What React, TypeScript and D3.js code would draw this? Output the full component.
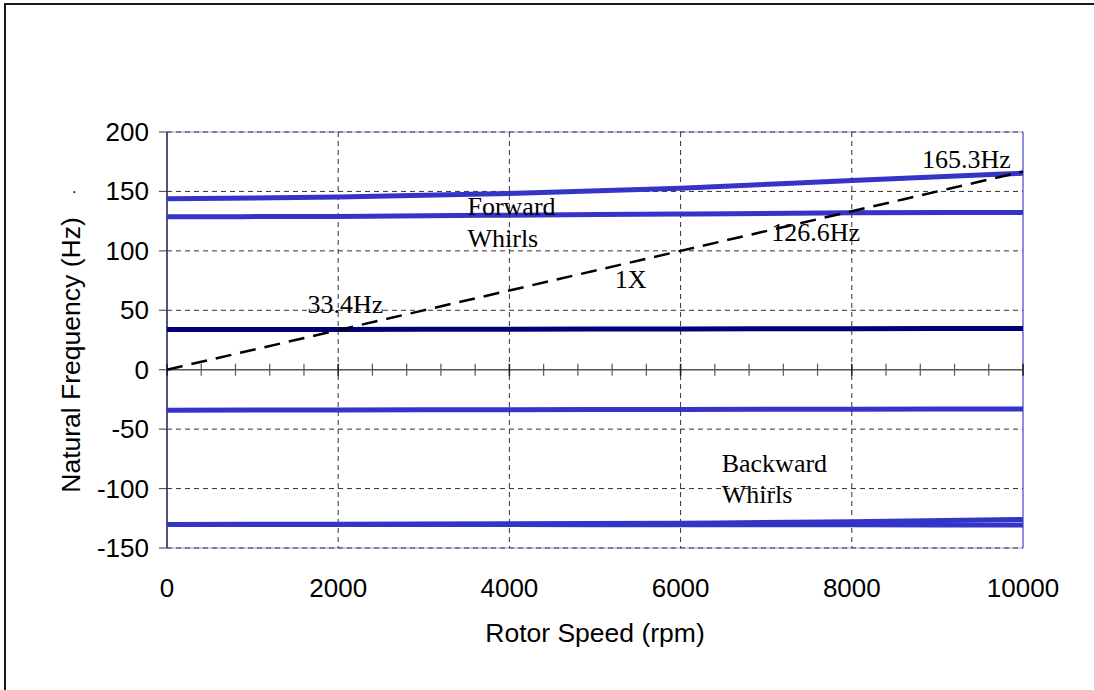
import React from "react";
import * as d3 from "d3";

// rotor speed samples (rpm)
const speeds = [0, 2000, 4000, 6000, 8000, 10000];

// natural frequencies (Hz) for each mode
const forward1 = [143.8, 145.3, 148.3, 152.7, 159.2, 165.3];
const forward2 = [128.7, 129.0, 130.0, 131.0, 132.0, 132.3];
const forward3 = [33.8, 33.9, 34.1, 34.3, 34.5, 34.7];
const backward1 = [-34.0, -33.8, -33.6, -33.4, -33.2, -33.0];
const backward2 = [-130.2, -130.0, -129.6, -129.1, -128.0, -126.0];
const backward3 = [-130.3, -130.3, -130.3, -130.4, -130.5, -130.6];

// 1X excitation line
const oneX = [0, 33.3, 66.7, 100, 133.3, 166.7];

const xTicks = [0, 2000, 4000, 6000, 8000, 10000];
const yTicks = [200, 150, 100, 50, 0, -50, -100, -150];

const modes = [
  { values: forward1, color: "#3434c8" },
  { values: forward2, color: "#3434c8" },
  { values: forward3, color: "#00007a" },
  { values: backward1, color: "#3434c8" },
  { values: backward2, color: "#3434c8" },
  { values: backward3, color: "#3434c8" },
];

export default function App() {
  const width = 1094;
  const height = 690;
  const margin = { left: 167, right: 71, top: 132, bottom: 142 };
  const innerW = width - margin.left - margin.right;
  const innerH = height - margin.top - margin.bottom;

  const x = d3.scaleLinear().domain([0, 10000]).range([0, innerW]);
  const y = d3.scaleLinear().domain([-150, 200]).range([innerH, 0]);

  const line = d3
    .line<number>()
    .x((_, i) => x(speeds[i]))
    .y(d => y(d))
    .curve(d3.curveMonotoneX);

  const minorTicks = d3.range(0, 10001, 400);
  const sans = "Liberation Sans, Arial, sans-serif";
  const serif = "Liberation Serif, Times New Roman, serif";

  return (
    <svg
      width={width}
      height={height}
      style={{ position: "absolute", left: 0, top: 0, background: "#fff" }}
    >
      {/* outer frame */}
      <rect x={5} y={4} width={1200} height={800} fill="none" stroke="#000" strokeWidth={1.8} />

      <g transform={`translate(${margin.left}, ${margin.top})`}>
        {/* plot frame */}
        <line x1={0} x2={innerW} y1={0} y2={0} stroke="#9a9aea" strokeWidth={1.2} />
        <line x1={0} x2={innerW} y1={innerH} y2={innerH} stroke="#9a9aea" strokeWidth={1.2} />
        <line x1={innerW} x2={innerW} y1={0} y2={innerH} stroke="#6a6ad8" strokeWidth={1.5} />

        {/* grid */}
        {yTicks.filter(t => t !== 0).map(t => (
          <line
            key={`gy${t}`}
            x1={0}
            x2={innerW}
            y1={y(t)}
            y2={y(t)}
            stroke="#333"
            strokeWidth={1}
            strokeDasharray="5,4"
          />
        ))}
        {xTicks.slice(1, -1).map(t => (
          <line
            key={`gx${t}`}
            x1={x(t)}
            x2={x(t)}
            y1={0}
            y2={innerH}
            stroke="#333"
            strokeWidth={1}
            strokeDasharray="5,4"
          />
        ))}

        {/* zero axis with ticks */}
        <line x1={0} x2={innerW} y1={y(0)} y2={y(0)} stroke="#555" strokeWidth={1.5} />
        {minorTicks.map(t => (
          <line
            key={`mt${t}`}
            x1={x(t)}
            x2={x(t)}
            y1={y(0) - 6}
            y2={y(0) + 6}
            stroke={t % 2000 === 0 ? "#222" : "#555"}
            strokeWidth={t % 2000 === 0 ? 1.6 : 1.2}
          />
        ))}

        {/* left axis */}
        <line x1={0} x2={0} y1={0} y2={innerH} stroke="#1a1a5a" strokeWidth={1.5} />
        {yTicks.map(t => (
          <g key={`yt${t}`}>
            <line x1={-8} x2={0} y1={y(t)} y2={y(t)} stroke="#555" strokeWidth={1.2} />
            <text
              x={-18}
              y={y(t)}
              textAnchor="end"
              dominantBaseline="central"
              fontFamily={sans}
              fontSize={26}
              fill="#000"
            >
              {t}
            </text>
          </g>
        ))}

        {xTicks.map(t => (
          <text
            key={`xt${t}`}
            x={x(t)}
            y={innerH + 49}
            textAnchor="middle"
            fontFamily={sans}
            fontSize={26}
            fill="#000"
          >
            {t}
          </text>
        ))}

        {/* modes */}
        {modes.map((m, i) => (
          <path
            key={`m${i}`}
            d={line(m.values) || ""}
            fill="none"
            stroke={m.color}
            strokeWidth={5}
          />
        ))}

        {/* 1X line */}
        <path
          d={line(oneX) || ""}
          fill="none"
          stroke="#000"
          strokeWidth={2.5}
          strokeDasharray="16,9"
        />

        {/* annotations */}
        <g fontFamily={serif} fontSize={26} fill="#000">
          <text x={x(8820)} y={y(169.3)}>165.3Hz</text>
          <text x={x(7060)} y={y(108.3)}>126.6Hz</text>
          <text x={x(1640)} y={y(47.7)}>33.4Hz</text>
          <text x={x(5230)} y={y(68.7)}>1X</text>
          <text x={x(3510)} y={y(130)}>Forward</text>
          <text x={x(3510)} y={y(103)}>Whirls</text>
          <text x={x(6480)} y={y(-86)}>Backward</text>
          <text x={x(6480)} y={y(-112)}>Whirls</text>
        </g>
      </g>

      {/* axis titles */}
      <text
        x={595}
        y={642}
        textAnchor="middle"
        fontFamily={sans}
        fontSize={26.5}
        fill="#000"
      >
        Rotor Speed (rpm)
      </text>
      <text
        transform="translate(71, 355) rotate(-90)"
        textAnchor="middle"
        dominantBaseline="central"
        fontFamily={sans}
        fontSize={26.5}
        fill="#000"
      >
        Natural Frequency (Hz)
      </text>
      <text x={72} y={193} fontFamily={sans} fontSize={16} fill="#000">.</text>
    </svg>
  );
}
